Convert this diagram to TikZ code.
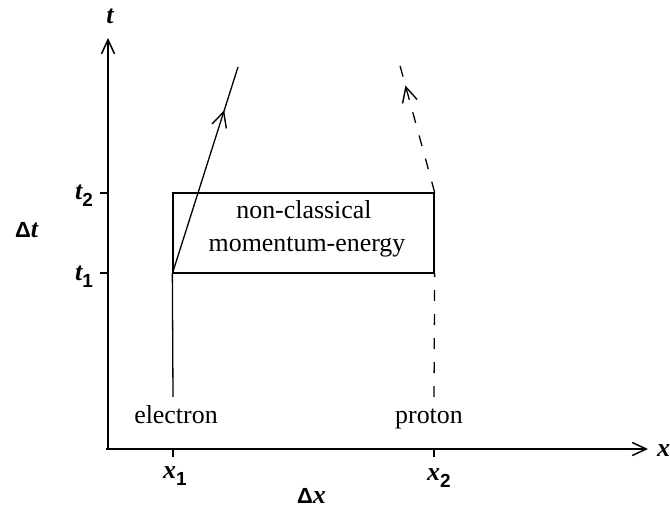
\documentclass[tikz,border=0pt]{standalone}
\usepackage{fontspec}
\setmainfont{Liberation Serif}
\newfontfamily\labsans{Liberation Sans}
\usetikzlibrary{arrows.meta,decorations.markings}
\newcommand{\mvar}[1]{{\fontsize{26}{28}\selectfont\bfseries\itshape #1}}
\newcommand{\msub}[1]{{\labsans\fontsize{19}{20}\selectfont\bfseries\raisebox{-7bp}{#1}}}
\newcommand{\mdelta}{{\labsans\fontsize{22}{24}\selectfont\bfseries\char"0394}}
\begin{document}
\begin{tikzpicture}[x=1bp,y=-1bp,
  axis/.style={line width=1.6bp,-{Straight Barb[length=14bp,width=13bp,line width=1.5bp]}},
  tick/.style={line width=1.3bp},
  boxst/.style={draw,line width=1.3bp,inner sep=0pt},
  world/.style={line width=1.3bp},
  dashworld/.style={line width=1.3bp,dash pattern=on 11bp off 13bp},
  midarrow/.style={postaction={decorate},decoration={markings,
     mark=at position #1 with {\arrow{Straight Barb[length=15bp,width=15bp,line width=1.4bp]}}}},
  lab/.style={font=\fontsize{26}{28}\selectfont,inner sep=0pt}]
\useasboundingbox (0,0) rectangle (670,511);
% axes
\coordinate (O) at (108,449);
\coordinate (ytop) at (108,38);
\coordinate (xend) at (648,449);
\draw[axis] (O) -- (ytop);
\draw[axis] (106,449) -- (xend);
\node[inner sep=0pt,anchor=base] (tlab) at (110,24) {\mvar{t}};
\node[inner sep=0pt,anchor=base west] (xlab) at (657,456) {\mvar{x}};
% region box
\node[boxst,minimum width=261bp,minimum height=80bp] (box) at (303.5,233) {};
\node[lab,anchor=base] (nc) at (304,219) {non-classical};
\node[lab,anchor=base] (me) at (307,252) {momentum-energy};
% ticks
\coordinate (t2a) at (100,193); \coordinate (t2b) at (108,193);
\coordinate (t1a) at (100,273); \coordinate (t1b) at (108,273);
\coordinate (x1a) at (173,449); \coordinate (x1b) at (173,457);
\coordinate (x2a) at (434,449); \coordinate (x2b) at (434,457);
\draw[tick] (t2a) -- (t2b);
\draw[tick] (t1a) -- (t1b);
\draw[tick] (x1a) -- (x1b);
\draw[tick] (x2a) -- (x2b);
% axis labels
\node[inner sep=0pt,anchor=base west] (t2lab) at (75,200) {\mvar{t}\msub{2}};
\node[inner sep=0pt,anchor=base west] (t1lab) at (75,280) {\mvar{t}\msub{1}};
\node[inner sep=0pt,anchor=base west] (dtlab) at (15,238) {\mdelta\mvar{t}};
\node[inner sep=0pt,anchor=base west] (x1lab) at (163,478) {\mvar{x}\msub{1}};
\node[inner sep=0pt,anchor=base west] (x2lab) at (427,480) {\mvar{x}\msub{2}};
\node[inner sep=0pt,anchor=base west] (dxlab) at (297,503) {\mdelta\mvar{x}};
% electron world line
\coordinate (e0) at (173,397);
\coordinate (e2) at (238,67);
\draw[world] (e0) -- (box.south west);
\draw[world,midarrow=0.79] (box.south west) -- (e2);
\node[lab,anchor=base] (elab) at (176,423) {electron};
% proton world line
\coordinate (p0) at (434,397);
\coordinate (p2) at (399,62);
\draw[dashworld] (p0) -- (box.south east);
\draw[dashworld,midarrow=0.82] (box.north east) -- (p2);
\node[lab,anchor=base] (plab) at (429,423) {proton};
\end{tikzpicture}
\end{document}
